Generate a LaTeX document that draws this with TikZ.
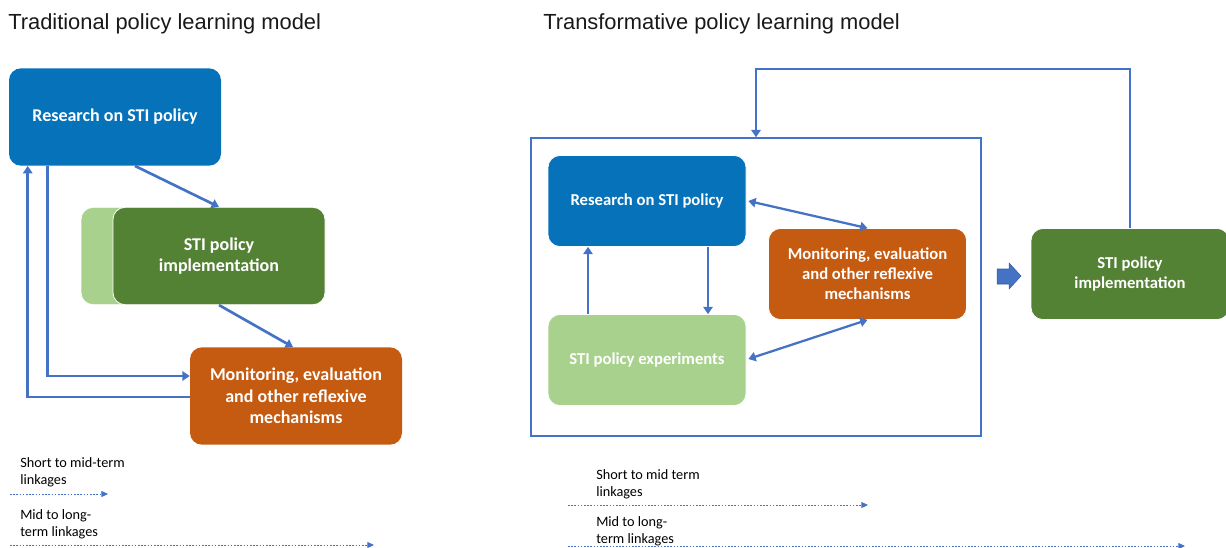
\documentclass[tikz,border=0pt]{standalone}
\usepackage{fontspec}
\setmainfont{Liberation Sans}
\newfontfamily\boxfont{Carlito}
\usetikzlibrary{arrows.meta,calc}
\definecolor{resblue}{HTML}{0672BA}
\definecolor{monorange}{HTML}{C55A11}
\definecolor{impgreen}{HTML}{548235}
\definecolor{expgreen}{HTML}{A9D18E}
\definecolor{linkblue}{HTML}{4472C4}
\begin{document}
\begin{tikzpicture}[x=0.75pt,y=-0.75pt,
  box/.style={rounded corners=9pt, inner sep=2pt, align=center, text=white,
    font=\boxfont\bfseries\fontsize{13.5}{16}\selectfont},
  lbox/.style={box, minimum width=159pt, minimum height=73pt},
  rbox/.style={box, minimum width=148.5pt, minimum height=68.25pt,
    draw=white, line width=0.5pt,
    font=\boxfont\bfseries\fontsize{12.5}{15}\selectfont},
  link/.style={draw=linkblue, line width=2pt, -{Triangle[length=5.5pt,width=7pt]}},
  rlink/.style={link, line width=1.7pt},
  twoway/.style={rlink, {Triangle[length=5.5pt,width=7pt]}-{Triangle[length=5.5pt,width=7pt]}},
  legendline/.style={draw=linkblue, line width=0.7pt, dash pattern=on 1.2pt off 1.2pt,
    -{Triangle[length=5pt,width=4.5pt]}},
  legendtext/.style={anchor=north west, inner sep=0pt, align=left, text=black,
    font=\boxfont\fontsize{10.7}{12.75}\selectfont},
  heading/.style={anchor=base west, inner sep=0pt, text=black!90,
    font=\fontsize{16.4}{19}\selectfont}]
\useasboundingbox (0,0) rectangle (1226,547);

% ---------- traditional model ----------
\node[heading] (ltitle) at (8,29) {Traditional policy learning model};

\node[lbox, fill=resblue] (lres) at (115,117) {Research on STI policy};
\node[lbox, fill=expgreen, draw=white, line width=0.6pt] (lexp) at (187,256) {};
\node[lbox, fill=impgreen, draw=white, line width=0.6pt] (limpl) at (219,256) {STI policy\\implementation};
\node[lbox, fill=monorange] (lmon) at (296,396) {Monitoring, evaluation\\and other reflexive\\mechanisms};

\draw[link] ($(lres.south)+(20,0)$) -- (limpl.north);
\draw[link] (limpl.south) -- ($(lmon.north)+(-3,0)$);
\draw[link] ($(lres.south west)+(39,0)$) |- ($(lmon.west)+(0,-20)$);
\draw[link] ($(lmon.west)+(0,1)$) -| ($(lres.south west)+(19,0)$);

% legend
\node[legendtext] (lshort) at (20,457) {Short to mid-term\\linkages};
\coordinate (ls1) at (10,494);
\coordinate (ls2) at (108,494);
\draw[legendline] (ls1) -- (ls2);
\node[legendtext] (llong) at (20,509) {Mid to long-\\term linkages};
\coordinate (ll1) at (10,545);
\coordinate (ll2) at (374,545);
\draw[legendline] (ll1) -- (ll2);

% ---------- transformative model ----------
\node[heading] (rtitle) at (543,29) {Transformative policy learning model};

\node[draw=linkblue, line width=1.1pt, minimum width=337.5pt, minimum height=223.5pt,
      inner sep=0pt] (rframe) at (756,287) {};

\node[rbox, fill=resblue] (rres) at (647,201) {Research on STI policy};
\node[rbox, fill=monorange] (rmon) at (867.5,274) {Monitoring, evaluation\\and other reflexive\\mechanisms};
\node[rbox, fill=expgreen] (rexp) at (647,360) {STI policy experiments};
\node[rbox, fill=impgreen] (rimpl) at (1130,274) {STI policy\\implementation};

\draw[twoway] ($(rres.east)+(2,0)$) -- (rmon.north);
\draw[twoway] ($(rexp.east)+(2,-1)$) -- (rmon.south);
\draw[rlink] ($(rres.south)+(61,0)$) -- ($(rexp.north)+(61,0)$);
\draw[rlink] ($(rexp.north)+(-59,0)$) -- ($(rres.south)+(-59,0)$);

% feedback from implementation into the learning loop
\coordinate (fbtop) at (0,69);
\draw[rlink] (rimpl.north) -- (rimpl.north |- fbtop) -| (rframe.north);

% block arrow between loop and implementation
\fill[linkblue, draw=linkblue!80!black, line width=0.4pt]
  (997,269) -- (1009,269) -- (1009,263) -- (1021,276) -- (1009,289) -- (1009,284) -- (997,284) -- cycle;

% legend
\node[legendtext] (rshort) at (596,469) {Short to mid term\\linkages};
\coordinate (rs1) at (568,505);
\coordinate (rs2) at (868,505);
\draw[legendline] (rs1) -- (rs2);
\node[legendtext] (rlong) at (596,516) {Mid to long-\\term linkages};
\coordinate (rl1) at (568,546);
\coordinate (rl2) at (1185,546);
\draw[legendline] (rl1) -- (rl2);
\end{tikzpicture}
\end{document}
